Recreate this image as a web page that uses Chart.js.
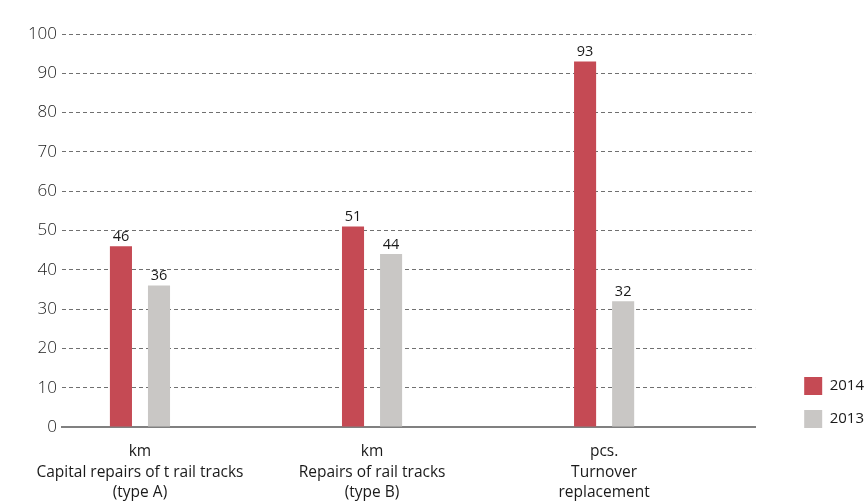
<!DOCTYPE html>
<html>
<head>
<meta charset="utf-8">
<script src="https://cdn.jsdelivr.net/npm/chart.js@4"></script>
<style>
  html, body { margin: 0; padding: 0; background: #fff; }
  #wrap { width: 868px; height: 501px; }
</style>
</head>
<body>
<div id="wrap"><canvas id="myChart"></canvas></div>
<script>
// categories (unit + name, one array per tick label)
const categories = [
    ['km', 'Capital repairs of t rail tracks', '(type A)'],
    ['km', 'Repairs of rail tracks', '(type B)'],
    ['pcs.', 'Turnover', 'replacement'],
];
const values2014 = [46, 51, 93];
const values2013 = [36, 44, 32];
const yTicks = [0, 10, 20, 30, 40, 50, 60, 70, 80, 90, 100];

const red = '#c54a54';
const grey = '#c9c7c5';
const font = "'Open Sans', sans-serif";

// value labels above the bars
const valueLabels = {
    id: 'valueLabels',
    afterDatasetsDraw(chart) {
        const ctx = chart.ctx;
        ctx.save();
        ctx.font = '14.5px ' + font;
        ctx.fillStyle = '#1a1a1a';
        ctx.textAlign = 'center';
        ctx.textBaseline = 'bottom';
        chart.data.datasets.forEach((ds, i) => {
            chart.getDatasetMeta(i).data.forEach((bar, j) => {
                ctx.fillText(ds.data[j], bar.x, bar.y - 2);
            });
        });
        ctx.restore();
    }
};

// nudge the legend down to the baseline and right into the margin
const legendShift = {
    id: 'legendShift',
    afterLayout(chart) {
        const lg = chart.legend;
        lg.top += 16; lg.bottom += 16;
        lg.left += 34; lg.right += 34;
    }
};

const ctx = document.getElementById('myChart').getContext('2d');

const chart = new Chart(ctx, {
    type: 'bar',
    data: {
        labels: categories.map((c, i) => i),
        datasets: [
            { label: '2014', data: values2014, backgroundColor: red },
            { label: '2013', data: values2013, backgroundColor: grey },
        ],
    },
    options: {
        responsive: true,
        maintainAspectRatio: false,
        animation: false,
        categoryPercentage: 0.328,
        barPercentage: 0.58,
        layout: { padding: { top: 34, right: 28, bottom: 0, left: 0 } },
        plugins: {
            tooltip: { enabled: false },
            legend: {
                position: 'right',
                align: 'end',
                fullSize: false,
                labels: {
                    boxWidth: 18,
                    boxHeight: 18,
                    padding: 15,
                    color: '#1a1a1a',
                    font: { family: font, size: 15 },
                },
            },
        },
        scales: {
            x: {
                type: 'linear',
                min: -0.336,
                max: 2.651,
                offset: false,
                afterBuildTicks: (scale) => {
                    scale.ticks = categories.map((c, i) => ({ value: i }));
                },
                afterFit: (scale) => { scale.height = 74; },
                grid: { display: false, drawTicks: false },
                border: { display: true, color: '#808080', width: 2 },
                ticks: {
                    autoSkip: false,
                    maxRotation: 0,
                    padding: 15,
                    color: '#1a1a1a',
                    font: { family: font, size: 15.5, lineHeight: 1.3 },
                    callback: (v) => categories[v],
                },
            },
            y: {
                min: 0,
                max: 100,
                afterBuildTicks: (scale) => {
                    scale.ticks = yTicks.map(v => ({ value: v }));
                },
                afterFit: (scale) => { scale.width = 62; },
                grid: {
                    drawTicks: false,
                    color: (c) => c.tick && c.tick.value === 0 ? 'rgba(0,0,0,0)' : '#707070',
                    lineWidth: 1,
                },
                border: { display: false, dash: [4, 3] },
                ticks: {
                    padding: 5,
                    color: '#1a1a1a',
                    font: { family: font, size: 17, weight: '300' },
                },
            },
        },
    },
    plugins: [valueLabels, legendShift],
});
</script>
</body>
</html>
